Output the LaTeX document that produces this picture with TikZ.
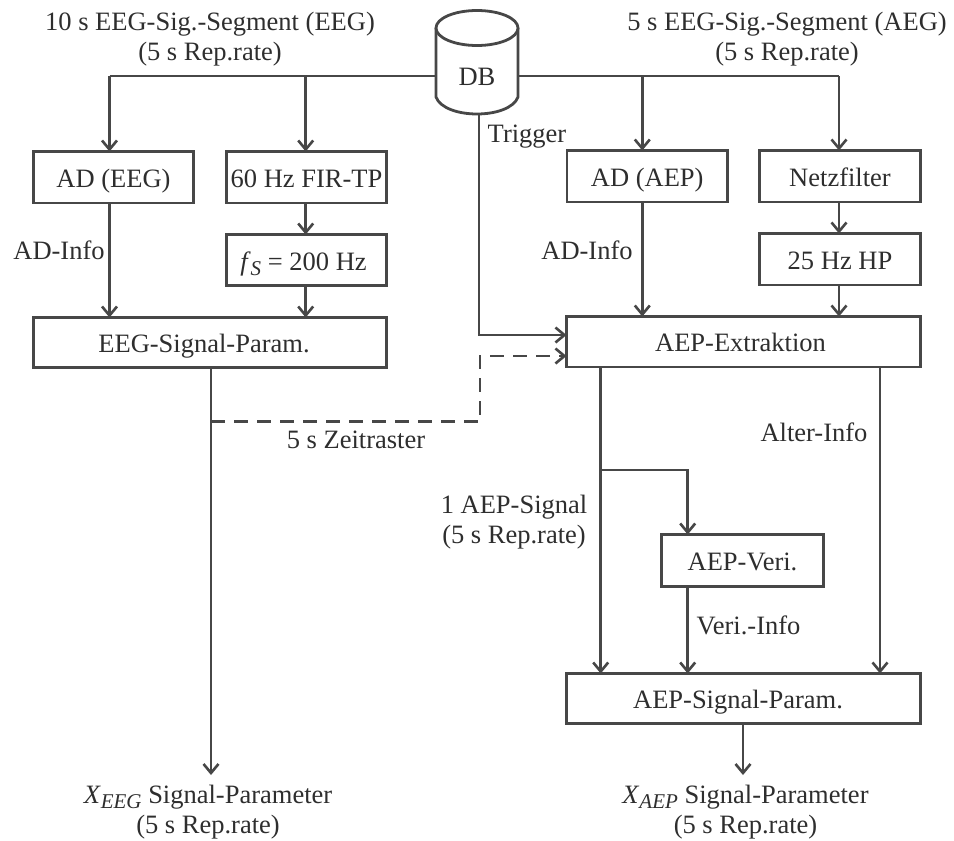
\documentclass[tikz,border=0pt]{standalone}
\usepackage{fontspec}
\setmainfont{Liberation Serif}
\usetikzlibrary{arrows.meta}
\definecolor{ink}{HTML}{474747}
\definecolor{tink}{HTML}{2E2E2E}
\newcommand{\subit}[1]{\raisebox{-5.5pt}{\fontsize{21}{21}\selectfont\itshape #1}}
\tikzset{
 every node/.style={text=tink,font=\fontsize{26.5}{30}\selectfont},
 blockbox/.style={draw=ink,line width=2.8pt,fill=white,outer sep=0pt,inner sep=0pt,text height=26pt,text depth=6pt,anchor=center},
 tipb/.style={-{Straight Barb[length=9pt,width=15pt,line width=2.6pt]}},
 conn/.style={draw=ink,line width=2.8pt,tipb},
 plainconn/.style={draw=ink,line width=2.8pt},
 lbl/.style={align=center,inner sep=0pt,anchor=base}
}
\begin{document}
\begin{tikzpicture}[x=1pt,y=-1pt]
\useasboundingbox (0,0) rectangle (954,841);
\coordinate (t1) at (109.5,76);
\coordinate (t2) at (305.7,76);
\coordinate (t3) at (642.3,76);
\coordinate (t4) at (839,76);
\node[blockbox,minimum width=160pt,minimum height=51.5pt] (adeeg) at (113.5,177.25) {AD (EEG)};
\node[blockbox,minimum width=160pt,minimum height=51.5pt] (fir) at (306.5,177.25) {60 Hz FIR-TP};
\node[blockbox,minimum width=160pt,minimum height=51pt] (fs) at (306.5,260) {\textit{f}\subit{S} = 200 Hz\hspace*{6pt}};
\node[blockbox,minimum width=353pt,minimum height=50pt] (eegp) at (210,342.5) {EEG-Signal-Param.\hspace*{12pt}};
\node[blockbox,minimum width=160.5pt,minimum height=51.5pt] (adaep) at (647.25,176.25) {AD (AEP)};
\node[blockbox,minimum width=161pt,minimum height=51.5pt] (netz) at (840,176.25) {Netzfilter};
\node[blockbox,minimum width=161pt,minimum height=51.5pt] (hp) at (840,259.25) {25 Hz HP};
\node[blockbox,minimum width=354pt,minimum height=50.5pt] (aepx) at (743.5,341.75) {AEP-Extraktion\hspace*{6pt}};
\node[blockbox,minimum width=162pt,minimum height=52pt] (veri) at (742.5,560.5) {AEP-Veri.};
\node[blockbox,minimum width=354pt,minimum height=50pt] (aepp) at (743.5,698.5) {AEP-Signal-Param.\hspace*{11pt}};
% connectors
\draw[plainconn] (t1) -- (t4);
\draw[conn] (t1) -- (adeeg.north -| t1);
\draw[conn] (t2) -- (fir.north -| t2);
\draw[conn] (t3) -- (adaep.north -| t3);
\draw[conn] (t4) -- (netz.north -| t4);
\draw[conn] (fir.south -| t2) -- (fs.north -| t2);
\draw[conn] (netz.south -| t4) -- (hp.north -| t4);
\draw[conn] (adeeg.south -| t1) -- (eegp.north -| t1);
\draw[conn] (fs.south -| t2) -- (eegp.north -| t2);
\draw[conn] (adaep.south -| t3) -- (aepx.north -| t3);
\draw[conn] (hp.south -| t4) -- (aepx.north -| t4);
\coordinate (tr) at (479,335);
\coordinate (dbb) at (479,114);
\draw[conn] (dbb) -- (tr) -- (aepx.west |- tr);
\coordinate (ee) at (211,367.5);
\coordinate (eo) at (211,775);
\draw[conn] (ee) -- (eo);
\coordinate (d1) at (211,421.7);
\coordinate (d2) at (480,421.7);
\coordinate (d3) at (480,356);
\draw[draw=ink,line width=2.8pt,dash pattern=on 14pt off 9pt,tipb] (d1) -- (d2) -- (d3) -- (aepx.west |- d3);
\coordinate (a1) at (600.7,367);
\coordinate (a3) at (600.7,470);
\coordinate (a4) at (687.7,470);
\coordinate (b1) at (880,367);
\coordinate (o1) at (743,723.5);
\coordinate (o2) at (743,775);
\draw[conn] (a1) -- (aepp.north -| a1);
\draw[conn] (a3) -- (a4) -- (veri.north -| a4);
\draw[conn] (veri.south -| a4) -- (aepp.north -| a4);
\draw[conn] (b1) -- (aepp.north -| b1);
\draw[conn] (o1) -- (o2);
% cylinder
\path[fill=white,draw=ink,line width=2.8pt] (436,28) -- (436,97) .. controls (440,108) and (458,114) .. (477,114) .. controls (496,114) and (514,108) .. (518,97) -- (518,28);
\draw[draw=ink,line width=2.8pt,fill=white] (477,28) ellipse [x radius=41,y radius=17.5];
\node[lbl] (db) at (477,85) {DB};
% labels
\node[lbl] (l1) at (210,60) {10 s EEG-Sig.-Segment (EEG)\\(5 s Rep.rate)};
\node[lbl] (l2) at (787,60) {5 s EEG-Sig.-Segment (AEG)\\(5 s Rep.rate)};
\node[lbl] (l3) at (527,142) {Trigger};
\node[lbl] (l4) at (59,259) {AD-Info};
\node[lbl] (l5) at (587,259) {AD-Info};
\node[lbl] (l6) at (356,448) {5 s Zeitraster};
\node[lbl] (l7) at (814,441) {Alter-Info};
\node[lbl] (l8) at (514,543) {1 AEP-Signal\\(5 s Rep.rate)};
\node[lbl] (l9) at (748.5,634) {Veri.-Info};
\node[lbl] (l10) at (208,833) {\textit{X}\subit{EEG} Signal-Parameter\\(5 s Rep.rate)};
\node[lbl] (l11) at (745.5,833) {\textit{X}\subit{AEP} Signal-Parameter\\(5 s Rep.rate)};
\end{tikzpicture}
\end{document}
